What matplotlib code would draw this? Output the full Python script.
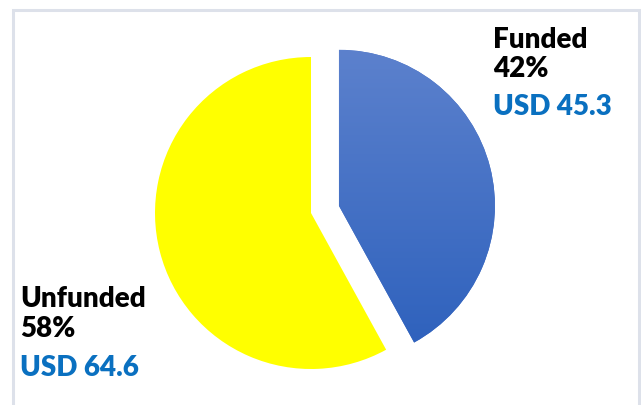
import numpy as np
import matplotlib
matplotlib.use("Agg")
import matplotlib.pyplot as plt
from matplotlib.colors import LinearSegmentedColormap
from matplotlib.patches import Rectangle

labels = ["Funded", "Unfunded"]
shares = [42, 58]
amounts = ["USD 45.3", "USD 64.6"]

plt.rcParams["font.family"] = ["Lato", "DejaVu Sans"]

W, H = 641, 405
R = 156
fig = plt.figure(figsize=(W / 100, H / 100), dpi=100)
ax = fig.add_axes([0, 0, 1, 1])

# explode is in data units here (radius != 1)
wedges, _ = ax.pie(shares, startangle=90, counterclock=False,
                   colors=["#4a72c6", "#ffff00"], explode=[0.185 * R, 0],
                   center=(311, 192), radius=R, frame=True,
                   wedgeprops=dict(linewidth=0))

# vertical gradient on the funded slice
blue = wedges[0]
bb = blue.get_path().get_extents(blue.get_transform() - ax.transData)
grad = np.linspace(0, 1, 256).reshape(-1, 1)
cmap = LinearSegmentedColormap.from_list("b", ["#2f62bd", "#5c81cd"])
im = ax.imshow(grad, extent=[bb.x0, bb.x1, bb.y0, bb.y1], origin="lower",
               cmap=cmap, aspect="auto", zorder=2)
im.set_clip_path(blue)

ax.set_xlim(0, W)
ax.set_ylim(0, H)
ax.set_aspect("equal")
ax.axis("off")

# outer frame
ax.add_patch(Rectangle((12.5, -5), 626, H - 9.5 + 5, fill=False,
                       edgecolor="#dde1ea", linewidth=2.2, zorder=0))

fs = 20
ax.text(493, H - 48, labels[0], fontsize=fs, fontweight="heavy", color="black")
ax.text(493, H - 77, f"{shares[0]}%", fontsize=fs, fontweight="heavy", color="black")
ax.text(493, H - 115, amounts[0], fontsize=fs, fontweight="heavy", color="#0a70c0")

ax.text(20, H - 307, labels[1], fontsize=fs, fontweight="heavy", color="black")
ax.text(20, H - 337, f"{shares[1]}%", fontsize=fs, fontweight="heavy", color="black")
ax.text(20, H - 376, amounts[1], fontsize=fs, fontweight="heavy", color="#0a70c0")

fig.savefig("out.png", dpi=100)
